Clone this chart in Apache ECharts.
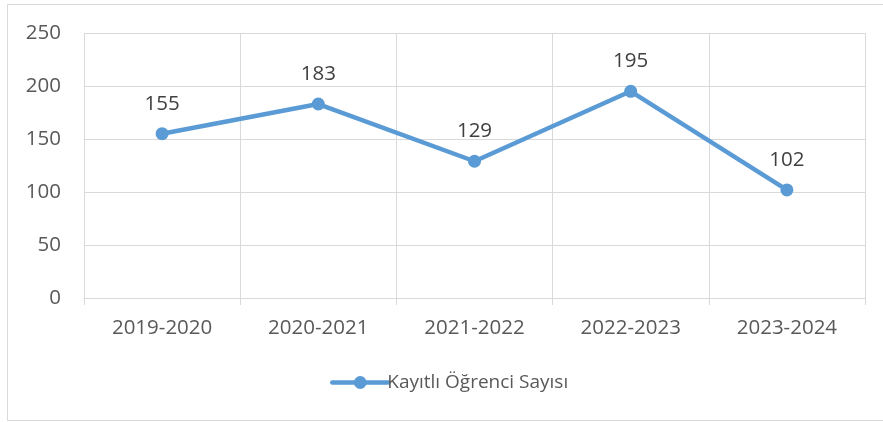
<!DOCTYPE html>
<html>
<head>
<meta charset="utf-8">
<script src="https://cdn.jsdelivr.net/npm/echarts@6/dist/echarts.min.js"></script>
<style>
html,body{margin:0;padding:0;background:#fff;}
#c{width:883px;height:422px;}
</style>
</head>
<body>
<div id="c"></div>
<script>
const categories = ['2019-2020', '2020-2021', '2021-2022', '2022-2023', '2023-2024'];
const seriesName = 'Kayıtlı Öğrenci Sayısı';
const values = [155, 183, 129, 195, 102];
const yMin = 0, yMax = 250, yStep = 50;

const chart = echarts.init(document.getElementById('c'), null, {renderer: 'canvas'});
const font = '"Open Sans", "Noto Sans", sans-serif';
chart.setOption({
  animation: false,
  backgroundColor: '#fff',
  textStyle: {fontFamily: font},
  graphic: [{
    type: 'rect',
    shape: {x: 7.5, y: 4.5, width: 900, height: 416},
    style: {fill: 'none', stroke: '#d9d9d9', lineWidth: 1},
    silent: true
  }],
  grid: {left: 84, right: 18, top: 33, bottom: 124, containLabel: false},
  legend: {
    show: true,
    left: 325,
    top: 368,
    itemWidth: 56,
    itemHeight: 16,
    itemGap: 10,
    lineStyle: {width: 4.5},
    textStyle: {fontFamily: font, fontSize: 19, color: '#595959', padding: [0, 0, 0, -6]},
    data: [seriesName]
  },
  xAxis: {
    type: 'category',
    data: categories,
    boundaryGap: true,
    axisLine: {show: true, lineStyle: {color: '#d9d9d9', width: 1}},
    axisTick: {show: true, length: 7, lineStyle: {color: '#d9d9d9'}},
    splitLine: {show: true, lineStyle: {color: '#d9d9d9', width: 1}},
    axisLabel: {fontFamily: font, fontSize: 20.5, color: '#595959', margin: 20}
  },
  yAxis: {
    type: 'value',
    min: yMin, max: yMax, interval: yStep,
    axisLine: {show: false},
    axisTick: {show: false},
    splitLine: {show: true, lineStyle: {color: '#d9d9d9', width: 1}},
    axisLabel: {fontFamily: font, fontSize: 20.5, color: '#595959', margin: 23}
  },
  series: [{
    name: seriesName,
    type: 'line',
    data: values,
    symbol: 'circle',
    symbolSize: 13,
    lineStyle: {color: '#5b9bd5', width: 4.5, cap: 'round', join: 'round'},
    itemStyle: {color: '#5b9bd5'},
    label: {
      show: true,
      position: 'top',
      distance: 13,
      fontFamily: font,
      fontSize: 20.5,
      color: '#404040'
    }
  }]
});
</script>
</body>
</html>
